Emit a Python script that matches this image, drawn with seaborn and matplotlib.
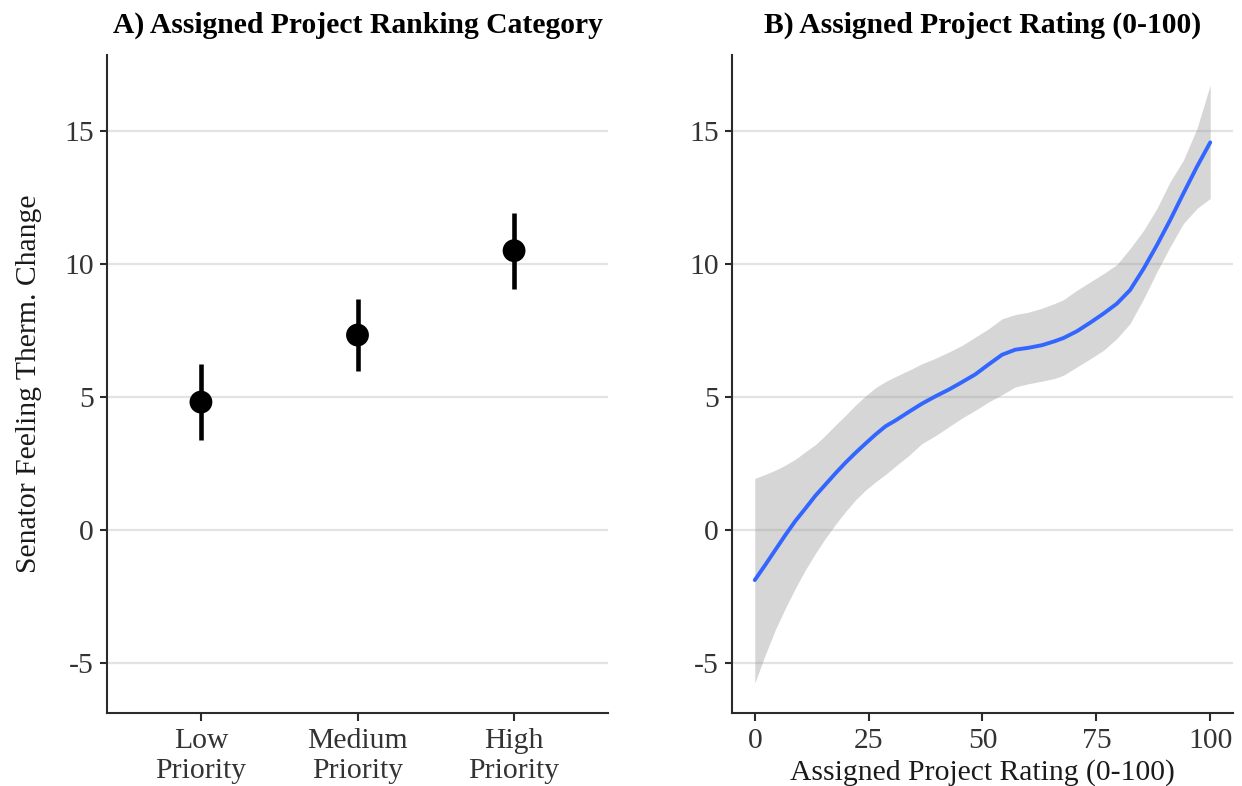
import numpy as np
import pandas as pd
import seaborn as sns
import matplotlib
matplotlib.use("Agg")
import matplotlib.pyplot as plt

# ---------------- data ----------------
categories = ["Low\nPriority", "Medium\nPriority", "High\nPriority"]
estimate = [4.81, 7.33, 10.50]
ci_low = [3.37, 5.97, 9.07]
ci_high = [6.24, 8.69, 11.93]

rating = [0, 2.3, 4.5, 6.7, 8.9, 11.1, 13.3, 15.5, 17.7, 19.9, 22.1, 24.3, 26.5, 28.7,
          30.9, 33.8, 36.7, 39.7, 42.6, 45.5, 48.4, 51.3, 54.3, 57.2, 60.1, 63.1, 65.9,
          67.8, 70.7, 73.7, 76.6, 79.5, 82.4, 85.4, 88.3, 91.2, 94.1, 97.1, 100]
fit = [-1.88, -1.31, -0.75, -0.19, 0.34, 0.81, 1.29, 1.71, 2.13, 2.53, 2.90, 3.25, 3.59, 3.90,
       4.12, 4.44, 4.75, 5.03, 5.28, 5.56, 5.85, 6.22, 6.59, 6.78, 6.85, 6.95, 7.10,
       7.22, 7.47, 7.80, 8.14, 8.51, 9.02, 9.83, 10.71, 11.65, 12.65, 13.66, 14.57]
fit_upper = [1.94, 2.09, 2.25, 2.44, 2.66, 2.94, 3.21, 3.56, 3.94, 4.31, 4.69, 5.04, 5.35, 5.58,
             5.77, 6.00, 6.25, 6.46, 6.69, 6.94, 7.25, 7.56, 7.94, 8.10, 8.19, 8.34, 8.52,
             8.66, 9.01, 9.33, 9.64, 9.98, 10.58, 11.27, 12.09, 13.09, 13.90, 15.10, 16.73]
fit_lower = [-5.75, -4.69, -3.75, -2.94, -2.19, -1.50, -0.88, -0.31, 0.21, 0.69, 1.13, 1.50, 1.81, 2.09,
             2.40, 2.80, 3.25, 3.55, 3.88, 4.21, 4.50, 4.81, 5.09, 5.38, 5.50, 5.60, 5.70,
             5.82, 6.13, 6.44, 6.76, 7.20, 7.76, 8.70, 9.71, 10.65, 11.52, 12.09, 12.46]

y_ticks = [-5, 0, 5, 10, 15]
x_ticks_rating = [0, 25, 50, 75, 100]

title_a = "A) Assigned Project Ranking Category"
title_b = "B) Assigned Project Rating (0-100)"
y_label = "Senator Feeling Therm. Change"
x_label_b = "Assigned Project Rating (0-100)"

# ---------------- style ----------------
sns.set_theme(style="white")
plt.rcParams['font.family'] = ['Liberation Serif', 'DejaVu Serif']
plt.rcParams['axes.unicode_minus'] = False
FS = 21.3
TICK_COL = "#333333"
AX_COL = "#2B2B2B"

fig = plt.figure(figsize=(12.42, 7.86), dpi=100)
W, H = 1242, 786
ax1 = fig.add_axes([107 / W, 73 / H, 501 / W, 658 / H])
ax2 = fig.add_axes([732 / W, 73 / H, 501 / W, 658 / H])

lo = min(min(fit_lower), min(ci_low))
hi = max(max(fit_upper), max(ci_high))
pad = 0.05 * (hi - lo)
ylim = (lo - pad, hi + pad)

df_a = pd.DataFrame({"pos": np.arange(len(categories)), "est": estimate,
                     "lo": ci_low, "hi": ci_high})
df_b = pd.DataFrame({"rating": rating, "fit": fit, "lower": fit_lower, "upper": fit_upper})

# ---------------- panel A ----------------
ax1.vlines(df_a["pos"], df_a["lo"], df_a["hi"], color="black", lw=3.3, zorder=3)
sns.scatterplot(data=df_a, x="pos", y="est", ax=ax1, color="black", s=270,
                edgecolor="none", zorder=4, legend=False)
ax1.set_xlim(-0.6, len(categories) - 1 + 0.6)
ax1.set_xticks(df_a["pos"])
ax1.set_xticklabels(categories, linespacing=1.2)
ax1.set_xlabel("")

# ---------------- panel B ----------------
ax2.fill_between(df_b["rating"], df_b["lower"], df_b["upper"], color="#999999",
                 alpha=0.4, lw=0, zorder=2)
sns.lineplot(data=df_b, x="rating", y="fit", ax=ax2, color="#3366FF", lw=2.8, zorder=3)
ax2.set_xlim(-5, 105)
ax2.set_xticks(x_ticks_rating)
ax2.set_xlabel(x_label_b, fontsize=FS, color="#1a1a1a")
ax2.set_ylabel("")

for ax, title in ((ax1, title_a), (ax2, title_b)):
    ax.set_ylim(*ylim)
    ax.set_yticks(y_ticks)
    ax.grid(False)
    ax.yaxis.grid(True, color="#E3E3E3", lw=1.6, zorder=0)
    ax.set_axisbelow(True)
    for s in ("top", "right"):
        ax.spines[s].set_visible(False)
    for s in ("left", "bottom"):
        ax.spines[s].set_color(AX_COL)
        ax.spines[s].set_linewidth(1.5)
    ax.tick_params(axis="both", which="major", length=5.4, width=1.5, color=AX_COL,
                   labelsize=FS, labelcolor=TICK_COL, left=True, bottom=True)
    ax.tick_params(axis="y", pad=4)
    ax.tick_params(axis="x", pad=5.5)
    ax.set_title(title, fontsize=FS, fontweight="bold", color="black", pad=16)

ax1.set_ylabel(y_label, fontsize=FS, color="#1a1a1a")
ax1.yaxis.set_label_coords(-0.1297, 0.5)
ax2.xaxis.set_label_coords(0.5, -0.0706)

fig.savefig("out.png", dpi=100)
